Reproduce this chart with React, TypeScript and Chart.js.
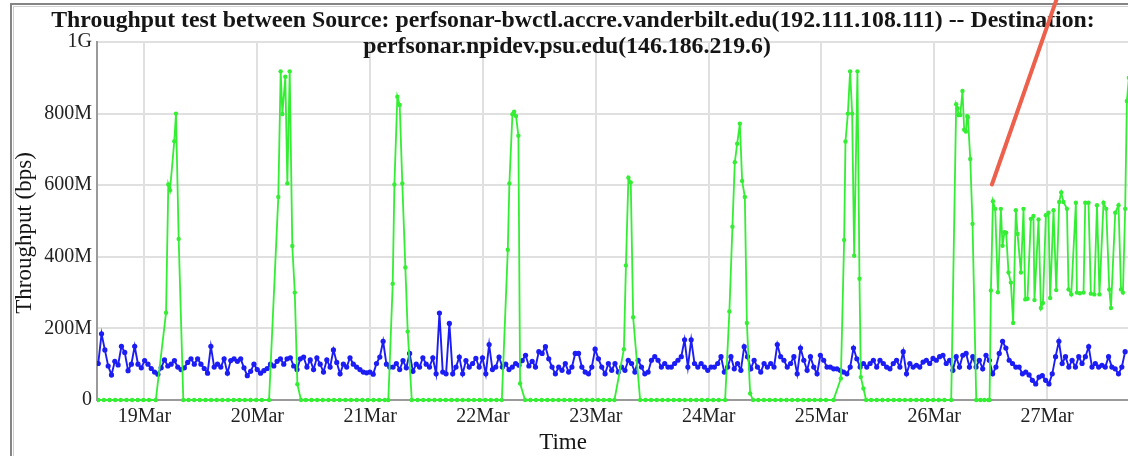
import React, { useEffect, useRef } from 'react';
import { Chart, registerables } from 'chart.js';

Chart.register(...registerables);

const titleLines = [
  'Throughput test between Source: perfsonar-bwctl.accre.vanderbilt.edu(192.111.108.111) -- Destination:',
  'perfsonar.npidev.psu.edu(146.186.219.6)',
];
const xTitle = 'Time';
const yTitle = 'Throughput (bps)';

const xMinDay = 18.579;
const xMaxDay = 27.717;
const xTickDays = [19, 20, 21, 22, 23, 24, 25, 26, 27];
const xTickLabels = ['19Mar', '20Mar', '21Mar', '22Mar', '23Mar', '24Mar', '25Mar', '26Mar', '27Mar'];
const yTickValues = [0, 200, 400, 600, 800, 1000];
const yTickLabels = ['0', '200M', '400M', '600M', '800M', '1G'];

// blue series: regular test schedule, values in Mbps
const blueStartDay = 18.59;
const blueIntervalDays = 0.02936;
const blueValues = [
  102, 185, 140, 95, 70, 108, 98, 150, 133, 82, 100, 150, 100, 90, 110, 100, 88, 78, 72, 90,
  112, 95, 100, 110, 92, 85, 90, 105, 115, 100, 115, 100, 88, 75, 150, 92, 100, 92, 115, 75,
  110, 115, 108, 115, 90, 68, 80, 100, 85, 75, 82, 88, 100, 95, 108, 115, 100, 115, 118, 95,
  85, 115,
  120, 92, 112, 85, 118, 100, 78, 112, 92, 140, 105, 73, 100, 92, 118, 100, 92, 85, 78, 76,
  78, 72, 102, 120, 164, 100, 92, 92, 102, 85, 110, 90, 130, 80, 100, 92, 118, 100, 92, 118,
  73, 243, 78, 73, 214, 73, 92, 120, 73, 110, 92, 102, 116, 92, 118, 73, 155, 85, 92, 120,
  92, 100,
  85, 92, 102, 97, 110, 125, 95, 108, 92, 135, 130, 149, 115, 92, 73, 92, 83, 102, 78, 92,
  130, 130, 92, 78, 73, 92, 142, 115, 92, 73, 102, 83, 102, 78, 92, 83, 111, 102, 78, 111,
  92, 73, 78, 111, 121, 111, 92, 102, 92, 92, 102, 111, 121, 168, 92, 168, 102, 92, 102, 92,
  83, 92,
  92, 102, 121, 78, 92, 121, 87, 102, 83, 149, 121, 87, 111, 92, 78, 102, 92, 102, 92, 155,
  121, 111, 92, 102, 121, 73, 145, 111, 83, 121, 92, 73, 125, 111, 92, 92, 87, 87, 83, 78,
  73, 92, 145, 115, 92, 102, 92, 102, 111, 92, 111, 102, 92, 87, 102, 111, 92, 135, 73, 102,
  92, 97,
  92, 106, 111, 102, 116, 111, 121, 125, 102, 111, 83, 121, 92, 125, 130, 92, 121, 92, 111, 87,
  125, 111, 73, 92, 130, 164, 145, 111, 102, 92, 92, 73, 78, 70, 55, 45, 64, 68, 55, 45,
  73, 121, 164, 102, 121, 92, 111, 92, 121, 102, 121, 149, 92, 102, 92, 97, 92, 121, 92, 87,
  73, 92, 135,
];

// green series: days where the measured throughput was 0
const greenZeroDays = [
  18.59, 18.64, 18.69, 18.74, 18.79, 18.84, 18.89, 18.94, 18.99, 19.04, 19.1,
  19.344, 19.39, 19.44, 19.49, 19.54, 19.59, 19.64, 19.69, 19.74, 19.79, 19.84, 19.89, 19.94, 19.99, 20.04, 20.104,
  20.387, 20.43, 20.48, 20.53, 20.58, 20.63, 20.68, 20.73, 20.78, 20.83, 20.88, 20.93, 20.98, 21.03, 21.08, 21.13, 21.161,
  21.369, 21.42, 21.47, 21.52, 21.57, 21.62, 21.67, 21.72, 21.77, 21.82, 21.87, 21.92, 21.97, 22.02, 22.07, 22.12, 22.167,
  22.373, 22.42, 22.47, 22.52, 22.57, 22.62, 22.67, 22.72, 22.77, 22.82, 22.87, 22.92, 22.97, 23.02, 23.07, 23.12, 23.165,
  23.393, 23.44, 23.49, 23.54, 23.59, 23.64, 23.69, 23.74, 23.79, 23.84, 23.89, 23.94, 23.99, 24.04, 24.09, 24.146,
  24.394, 24.44, 24.49, 24.54, 24.59, 24.64, 24.69, 24.74, 24.79, 24.84, 24.89, 24.94, 24.99, 25.04, 25.106,
  25.396, 25.44, 25.49, 25.54, 25.59, 25.64, 25.69, 25.74, 25.79, 25.84, 25.89, 25.94, 25.99, 26.04, 26.09, 26.15,
  26.372, 26.408, 26.443, 26.479, 26.49,
];

// green series: non-zero measurements [day, Mbps]
const greenPeaks: [number, number][] = [
  [19.191, 244], [19.211, 602], [19.226, 586], [19.264, 723], [19.279, 800], [19.303, 450],
  [20.186, 567], [20.207, 918], [20.222, 799], [20.248, 903], [20.266, 605], [20.287, 918],
  [20.31, 430], [20.332, 300], [20.355, 44],
  [21.2, 325], [21.215, 602], [21.241, 847], [21.262, 824], [21.285, 605], [21.312, 370], [21.333, 191],
  [22.22, 420], [22.234, 605], [22.261, 798], [22.276, 805], [22.293, 793], [22.314, 738], [22.329, 46],
  [23.249, 142], [23.267, 376], [23.289, 621], [23.31, 608], [23.331, 231],
  [24.184, 247], [24.211, 484], [24.232, 664], [24.253, 716], [24.277, 772], [24.297, 612],
  [24.321, 567], [24.339, 215], [24.368, 18],
  [25.172, 60], [25.201, 447], [25.213, 722], [25.234, 800], [25.254, 918], [25.272, 800],
  [25.29, 403], [25.319, 918], [25.337, 339], [25.349, 64], [25.372, 32],
  [26.194, 826], [26.206, 815], [26.215, 796], [26.23, 796], [26.25, 863], [26.265, 755],
  [26.28, 750], [26.292, 793], [26.298, 790], [26.319, 673], [26.339, 492],
  [26.502, 306], [26.52, 555], [26.54, 534], [26.564, 301], [26.59, 534], [26.605, 431],
  [26.622, 469], [26.637, 467], [26.658, 356], [26.679, 328], [26.699, 215], [26.723, 530],
  [26.738, 464], [26.768, 356], [26.791, 534], [26.806, 281], [26.826, 283], [26.856, 506],
  [26.879, 514], [26.888, 279], [26.924, 504], [26.945, 257], [26.963, 271], [26.989, 516],
  [27.012, 523], [27.027, 285], [27.057, 530], [27.081, 307], [27.107, 553], [27.125, 580],
  [27.145, 553], [27.176, 534], [27.19, 309], [27.214, 295], [27.255, 551], [27.264, 300],
  [27.29, 298], [27.323, 300], [27.338, 551], [27.367, 551], [27.388, 297], [27.418, 295],
  [27.442, 544], [27.464, 295], [27.5, 551], [27.524, 534], [27.551, 309], [27.566, 257],
  [27.604, 523], [27.633, 544], [27.655, 309], [27.672, 300], [27.692, 534], [27.707, 835],
  [27.725, 900],
];

// red annotation stroke, in data units
const arrowDays = [27.098, 26.511];
const arrowValues = [1132, 602];

const FONT = '"Liberation Serif", "Times New Roman", serif';

const decorPlugin = {
  id: 'decor',
  beforeDraw(chart: any) {
    const ctx = chart.ctx;
    ctx.save();
    ctx.fillStyle = '#ffffff';
    ctx.fillRect(0, 0, chart.width, chart.height);
    ctx.restore();
  },
  afterDraw(chart: any) {
    const ctx = chart.ctx;
    ctx.save();
    // outer frame
    ctx.strokeStyle = '#858585';
    ctx.lineWidth = 2;
    ctx.strokeRect(11, 4, 1200, 600);
    ctx.strokeStyle = '#d0d0d0';
    ctx.lineWidth = 1;
    ctx.strokeRect(13.5, 6.5, 1200, 600);

    // title
    ctx.fillStyle = '#151515';
    ctx.textAlign = 'center';
    ctx.textBaseline = 'alphabetic';
    ctx.font = `bold 23.8px ${FONT}`;
    ctx.fillText(titleLines[0], 573, 27);
    ctx.fillText(titleLines[1], 567, 53);

    // axis titles
    ctx.font = `23px ${FONT}`;
    ctx.fillText(xTitle, 563, 449);
    ctx.save();
    ctx.translate(31, 233);
    ctx.rotate(-Math.PI / 2);
    ctx.fillText(yTitle, 0, 0);
    ctx.restore();

    // red annotation stroke
    const xs = chart.scales.x;
    const ys = chart.scales.y;
    ctx.strokeStyle = 'rgb(236, 96, 76)';
    ctx.lineWidth = 4;
    ctx.lineCap = 'round';
    ctx.beginPath();
    arrowDays.forEach((d, i) => {
      const px = xs.getPixelForValue(d);
      const py = ys.getPixelForValue(arrowValues[i]);
      if (i === 0) ctx.moveTo(px, py);
      else ctx.lineTo(px, py);
    });
    ctx.stroke();
    ctx.restore();
  },
};

export default function App() {
  const canvasRef = useRef<HTMLCanvasElement | null>(null);

  useEffect(() => {
    const canvas = canvasRef.current;
    if (!canvas) return;

    const blueData = blueValues.map((v, i) => ({ x: blueStartDay + i * blueIntervalDays, y: v }));
    const greenData = [
      ...greenZeroDays.map((d) => ({ x: d, y: 0 })),
      ...greenPeaks.map(([d, v]) => ({ x: d, y: v })),
    ].sort((a, b) => a.x - b.x);

    const green = 'rgb(52, 238, 52)';
    const blue = 'rgb(28, 28, 245)';

    const chart = new Chart(canvas, {
      type: 'line',
      data: {
        datasets: [
          {
            label: 'green',
            data: greenData,
            borderColor: green,
            backgroundColor: green,
            pointBackgroundColor: green,
            pointBorderWidth: 0,
            pointRadius: 2.2,
            borderWidth: 1.8,
            tension: 0,
            clip: { left: 0, top: 0, right: 0, bottom: 4 },
          },
          {
            label: 'blue',
            data: blueData,
            borderColor: blue,
            backgroundColor: blue,
            pointBackgroundColor: blue,
            pointBorderWidth: 0,
            pointRadius: 2.6,
            borderWidth: 1.9,
            tension: 0,
          },
        ],
      },
      options: {
        animation: false,
        responsive: false,
        maintainAspectRatio: false,
        events: [],
        layout: { padding: { top: 42, left: 0, right: 0, bottom: 0 }, autoPadding: false },
        plugins: {
          legend: { display: false },
          tooltip: { enabled: false },
          title: { display: false },
        },
        scales: {
          x: {
            type: 'linear',
            min: xMinDay,
            max: xMaxDay,
            afterBuildTicks: (scale: any) => {
              scale.ticks = xTickDays.map((value) => ({ value }));
            },
            afterFit: (scale: any) => {
              scale.height = 56;
            },
            grid: { color: '#e0e0e0', lineWidth: 2, drawTicks: false },
            border: { color: '#9a9a9a', width: 2 },
            ticks: {
              padding: 5,
              color: '#222',
              font: { family: FONT, size: 20 },
              maxRotation: 0,
              autoSkip: false,
              callback: (v: any) => {
                const i = xTickDays.indexOf(Number(v));
                return i >= 0 ? xTickLabels[i] : '';
              },
            },
          },
          y: {
            type: 'linear',
            min: 0,
            max: 1000,
            afterBuildTicks: (scale: any) => {
              scale.ticks = yTickValues.map((value) => ({ value }));
            },
            afterFit: (scale: any) => {
              scale.width = 97;
            },
            grid: { color: '#e0e0e0', lineWidth: 2, drawTicks: false },
            border: { color: '#9a9a9a', width: 2 },
            ticks: {
              padding: 5,
              color: '#222',
              font: { family: FONT, size: 20 },
              callback: (v: any) => {
                const i = yTickValues.indexOf(Number(v));
                return i >= 0 ? yTickLabels[i] : '';
              },
            },
          },
        },
      },
      plugins: [decorPlugin],
    });

    return () => chart.destroy();
  }, []);

  return (
    <div style={{ position: 'fixed', left: 0, top: 0, width: 1128, height: 456, background: '#fff' }}>
      <canvas ref={canvasRef} width={1128} height={456} style={{ display: 'block' }} />
    </div>
  );
}
